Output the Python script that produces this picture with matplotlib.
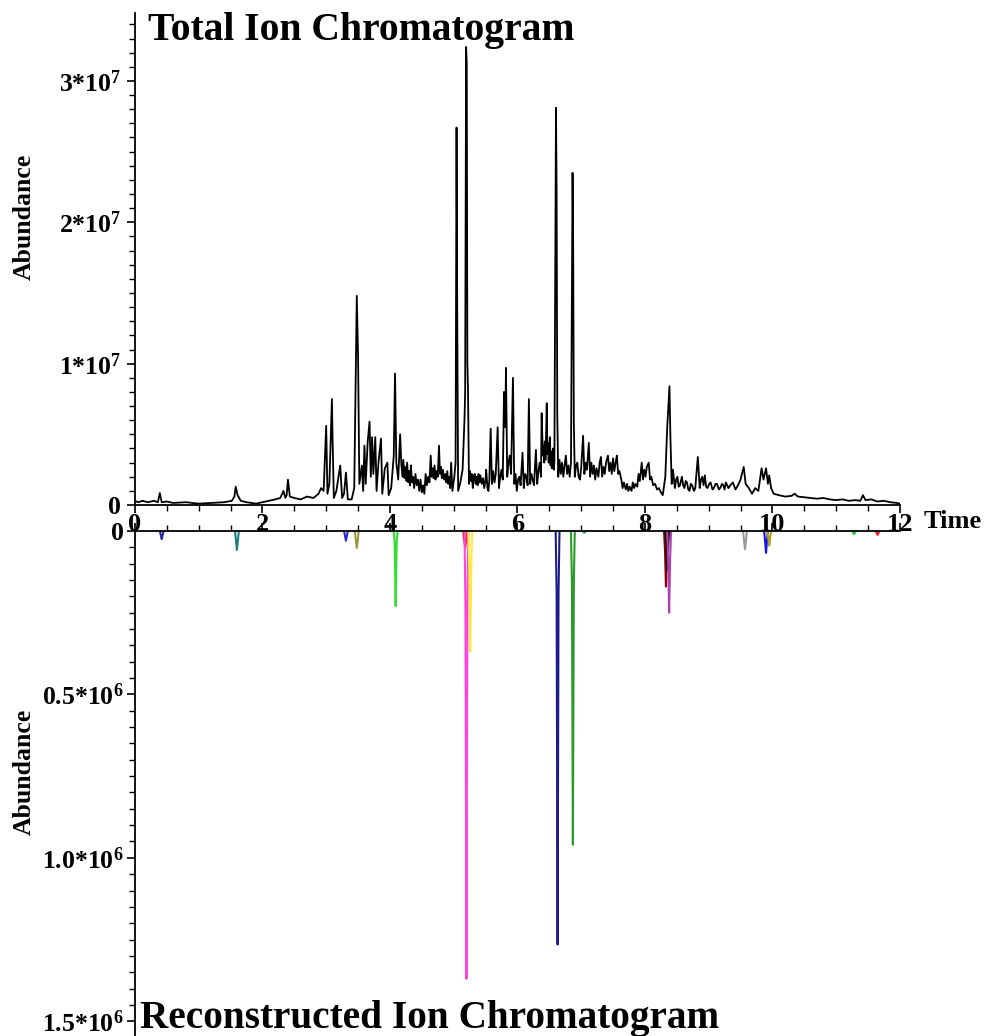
import matplotlib
matplotlib.use("Agg")
import matplotlib.pyplot as plt
from matplotlib.ticker import FixedLocator, MultipleLocator
import numpy as np

plt.rcParams['font.family'] = ['Liberation Serif', 'DejaVu Serif']
plt.rcParams['font.weight'] = 'bold'
plt.rcParams['mathtext.fontset'] = 'custom'
plt.rcParams['mathtext.rm'] = 'Liberation Serif:bold'
plt.rcParams['mathtext.bf'] = 'Liberation Serif:bold'
plt.rcParams['mathtext.it'] = 'Liberation Serif:bold'

# total ion chromatogram: (time in min, abundance in units of 1e7)
tic_points = [
    (0.00, 0.03), (0.05, 0.02), (0.12, 0.03), (0.20, 0.02), (0.30, 0.03), (0.36, 0.02),
    (0.39, 0.085), (0.42, 0.02), (0.50, 0.025), (0.60, 0.015), (0.80, 0.02), (1.00, 0.01),
    (1.20, 0.015), (1.40, 0.02), (1.52, 0.03), (1.56, 0.06), (1.58, 0.13), (1.61, 0.07),
    (1.66, 0.03), (1.75, 0.02), (1.90, 0.01), (2.00, 0.02), (2.10, 0.03), (2.20, 0.04),
    (2.28, 0.05), (2.33, 0.10), (2.36, 0.05), (2.38, 0.07), (2.40, 0.18), (2.43, 0.06),
    (2.50, 0.05), (2.60, 0.04), (2.70, 0.06), (2.80, 0.05), (2.88, 0.08), (2.92, 0.12),
    (2.96, 0.10), (3.00, 0.56), (3.02, 0.08), (3.05, 0.15), (3.09, 0.75), (3.10, 0.47),
    (3.12, 0.05), (3.16, 0.10), (3.22, 0.28), (3.25, 0.05), (3.28, 0.08), (3.31, 0.23),
    (3.34, 0.04), (3.40, 0.04), (3.44, 0.12), (3.48, 1.48), (3.50, 1.05), (3.52, 0.15),
    (3.56, 0.28), (3.58, 0.10), (3.60, 0.42), (3.62, 0.15), (3.65, 0.44), (3.68, 0.59),
    (3.70, 0.20), (3.72, 0.48), (3.74, 0.22), (3.77, 0.48), (3.79, 0.10), (3.82, 0.30),
    (3.86, 0.47), (3.88, 0.08), (3.92, 0.26), (3.96, 0.30), (3.98, 0.07), (4.02, 0.12),
    (4.06, 0.35), (4.08, 0.93), (4.10, 0.30), (4.13, 0.18), (4.16, 0.50), (4.18, 0.28),
    (4.20, 0.20), (4.21, 0.32), (4.23, 0.19), (4.245, 0.27), (4.26, 0.17), (4.27, 0.30),
    (4.29, 0.16), (4.30, 0.24), (4.315, 0.14), (4.33, 0.28), (4.345, 0.16), (4.36, 0.20),
    (4.38, 0.12), (4.40, 0.22), (4.42, 0.14), (4.44, 0.18), (4.46, 0.10), (4.48, 0.18),
    (4.50, 0.09), (4.52, 0.14), (4.54, 0.08), (4.56, 0.22), (4.58, 0.14), (4.60, 0.20),
    (4.62, 0.16), (4.64, 0.35), (4.655, 0.20), (4.67, 0.26), (4.685, 0.19), (4.70, 0.28),
    (4.715, 0.18), (4.73, 0.24), (4.75, 0.20), (4.77, 0.42), (4.785, 0.22), (4.80, 0.27),
    (4.815, 0.19), (4.83, 0.25), (4.85, 0.18), (4.87, 0.22), (4.885, 0.16), (4.90, 0.24),
    (4.915, 0.15), (4.93, 0.20), (4.945, 0.12), (4.96, 0.30), (4.98, 0.10), (5.01, 0.20),
    (5.03, 0.30), (5.045, 2.67), (5.055, 1.46), (5.07, 0.10), (5.10, 0.15), (5.14, 0.25),
    (5.17, 0.61), (5.18, 0.80), (5.195, 3.24), (5.205, 3.13), (5.215, 1.00), (5.225, 0.81),
    (5.24, 0.15), (5.255, 0.24), (5.27, 0.17), (5.285, 0.22), (5.30, 0.12), (5.315, 0.20),
    (5.33, 0.22), (5.345, 0.15), (5.36, 0.20), (5.375, 0.14), (5.39, 0.22), (5.405, 0.16),
    (5.42, 0.21), (5.44, 0.15), (5.46, 0.19), (5.48, 0.12), (5.50, 0.18), (5.51, 0.25),
    (5.53, 0.12), (5.545, 0.10), (5.56, 0.18), (5.58, 0.54), (5.60, 0.15), (5.62, 0.24),
    (5.64, 0.16), (5.66, 0.22), (5.69, 0.55), (5.71, 0.12), (5.73, 0.20), (5.75, 0.25),
    (5.77, 0.18), (5.79, 0.80), (5.81, 0.55), (5.82, 0.97), (5.84, 0.20), (5.86, 0.30),
    (5.88, 0.35), (5.90, 0.22), (5.93, 0.90), (5.95, 0.15), (5.97, 0.22), (5.99, 0.10),
    (6.01, 0.18), (6.03, 0.20), (6.05, 0.14), (6.08, 0.37), (6.10, 0.12), (6.12, 0.22),
    (6.14, 0.20), (6.16, 0.14), (6.18, 0.75), (6.20, 0.15), (6.22, 0.22), (6.24, 0.18),
    (6.26, 0.14), (6.29, 0.39), (6.31, 0.15), (6.33, 0.24), (6.35, 0.30), (6.37, 0.20),
    (6.38, 0.65), (6.40, 0.35), (6.41, 0.42), (6.42, 0.30), (6.43, 0.45), (6.44, 0.32),
    (6.45, 0.50), (6.46, 0.72), (6.47, 0.36), (6.48, 0.44), (6.49, 0.30), (6.50, 0.42),
    (6.51, 0.48), (6.52, 0.28), (6.53, 0.38), (6.54, 0.26), (6.55, 0.35), (6.56, 0.40),
    (6.57, 0.25), (6.58, 0.30), (6.605, 2.81), (6.615, 2.20), (6.625, 0.65), (6.64, 0.20),
    (6.66, 0.32), (6.68, 0.22), (6.70, 0.30), (6.72, 0.20), (6.74, 0.28), (6.76, 0.35),
    (6.78, 0.22), (6.80, 0.28), (6.82, 0.20), (6.84, 0.30), (6.865, 2.35), (6.875, 1.82),
    (6.885, 0.58), (6.90, 0.20), (6.92, 0.28), (6.94, 0.30), (6.96, 0.20), (6.98, 0.18),
    (7.00, 0.26), (7.03, 0.49), (7.05, 0.22), (7.07, 0.30), (7.09, 0.25), (7.12, 0.44),
    (7.14, 0.20), (7.16, 0.30), (7.18, 0.22), (7.20, 0.28), (7.22, 0.18), (7.24, 0.26),
    (7.27, 0.20), (7.29, 0.30), (7.31, 0.34), (7.33, 0.20), (7.35, 0.27), (7.37, 0.22),
    (7.39, 0.30), (7.42, 0.35), (7.44, 0.24), (7.46, 0.30), (7.48, 0.22), (7.50, 0.33),
    (7.52, 0.24), (7.54, 0.30), (7.56, 0.35), (7.58, 0.22), (7.60, 0.24), (7.63, 0.18),
    (7.65, 0.12), (7.67, 0.16), (7.70, 0.11), (7.72, 0.15), (7.74, 0.10), (7.76, 0.13),
    (7.79, 0.10), (7.81, 0.16), (7.83, 0.12), (7.85, 0.15), (7.88, 0.13), (7.90, 0.22),
    (7.92, 0.17), (7.95, 0.30), (7.97, 0.18), (7.99, 0.25), (8.01, 0.20), (8.03, 0.27),
    (8.06, 0.30), (8.08, 0.18), (8.10, 0.20), (8.13, 0.14), (8.16, 0.15), (8.19, 0.11),
    (8.22, 0.12), (8.25, 0.09), (8.28, 0.07), (8.32, 0.20), (8.35, 0.55), (8.37, 0.72),
    (8.385, 0.84), (8.40, 0.48), (8.42, 0.15), (8.44, 0.25), (8.47, 0.12), (8.49, 0.18),
    (8.51, 0.20), (8.53, 0.13), (8.55, 0.14), (8.58, 0.20), (8.60, 0.14), (8.62, 0.12),
    (8.64, 0.17), (8.66, 0.16), (8.68, 0.11), (8.70, 0.10), (8.72, 0.15), (8.74, 0.14),
    (8.77, 0.10), (8.79, 0.12), (8.83, 0.34), (8.86, 0.12), (8.88, 0.18), (8.90, 0.20),
    (8.92, 0.14), (8.94, 0.21), (8.96, 0.13), (8.98, 0.12), (9.01, 0.15), (9.03, 0.16),
    (9.06, 0.11), (9.08, 0.12), (9.11, 0.15), (9.13, 0.15), (9.16, 0.11), (9.18, 0.12),
    (9.21, 0.15), (9.23, 0.14), (9.25, 0.11), (9.27, 0.16), (9.31, 0.12), (9.34, 0.14),
    (9.38, 0.16), (9.42, 0.11), (9.46, 0.14), (9.50, 0.18), (9.55, 0.27), (9.58, 0.15),
    (9.63, 0.12), (9.68, 0.08), (9.73, 0.12), (9.78, 0.10), (9.83, 0.26), (9.86, 0.18),
    (9.90, 0.26), (9.93, 0.15), (9.95, 0.21), (9.98, 0.12), (10.02, 0.08), (10.10, 0.07),
    (10.20, 0.06), (10.30, 0.065), (10.35, 0.08), (10.40, 0.06), (10.50, 0.055),
    (10.60, 0.05), (10.70, 0.045), (10.80, 0.05), (10.90, 0.04), (11.00, 0.035),
    (11.10, 0.04), (11.20, 0.03), (11.30, 0.035), (11.38, 0.03), (11.42, 0.07),
    (11.46, 0.035), (11.55, 0.04), (11.65, 0.025), (11.75, 0.03), (11.85, 0.02),
    (11.95, 0.015), (12.00, 0.01),
]
tic_time = [p[0] for p in tic_points]
tic_abund = [p[1] for p in tic_points]

# reconstructed ion chromatograms: retention time, apex (1e6), narrowing point (1e6), colour
ric_time = [0.42, 1.60, 3.31, 3.48, 4.09, 5.18, 5.20, 5.26, 6.63, 6.87, 7.05,
            8.33, 8.35, 8.38, 9.57, 9.90, 9.95, 11.28, 11.65]
ric_apex = [0.025, 0.058, 0.03, 0.052, 0.23, 0.05, 1.37, 0.37, 1.265, 0.96, 0.006,
            0.17, 0.12, 0.25, 0.056, 0.067, 0.045, 0.010, 0.012]
ric_neck = [0.012, 0.03, 0.015, 0.03, 0.04, 0.03, 0.24, 0.12, 0.19, 0.16, 0.003,
            0.06, 0.05, 0.09, 0.03, 0.03, 0.02, 0.005, 0.006]
ric_color = ['#2a2aa0', '#1a8080', '#2a2ad0', '#9a9a40', '#33dd33', '#ee2020', '#ff44dd',
             '#ffe840', '#1c1c8c', '#2a9a2a', '#40a0a0', '#8b0000', '#111111', '#b040b0',
             '#9a9a9a', '#1515e0', '#b0a020', '#22cc22', '#ee2020']

top_ticks = [0, 1e7, 2e7, 3e7]
top_labels = ['0', r'$1{*}10^7$', r'$2{*}10^7$', r'$3{*}10^7$']
bottom_ticks = [0, 0.5e6, 1.0e6, 1.5e6]
bottom_labels = ['0', r'$0.5{*}10^6$', r'$1.0{*}10^6$', r'$1.5{*}10^6$']
time_ticks = [0, 2, 4, 6, 8, 10, 12]

fig = plt.figure(figsize=(9.85, 10.36), dpi=100)
ax1 = fig.add_axes([0.137, 0.5125, 0.7766, 0.4749])
ax2 = fig.add_axes([0.137, 0.0, 0.7766, 0.4875])

ax1.plot(tic_time, np.array(tic_abund) * 1e7, color='black', lw=1.3)
ax1.set_xlim(0, 12)
ax1.set_ylim(0, 3.48e7)

for t, h, n, c in zip(ric_time, ric_apex, ric_neck, ric_color):
    xs = [t - 0.03, t - 0.015, t, t + 0.015, t + 0.03]
    ys = np.array([0, n, h, n, 0]) * 1e6
    ax2.plot(xs, ys, color=c, lw=1.5)
ax2.set_xlim(0, 12)
ax2.set_ylim(1.545e6, 0)

tick_font = dict(fontsize=19, fontweight='bold', family='Liberation Serif')
ytick_font = dict(fontsize=18.5, fontweight='bold', family='Liberation Serif')

for ax in (ax1, ax2):
    ax.spines['right'].set_visible(False)
    ax.spines['left'].set_linewidth(1.3)
    ax.xaxis.set_major_locator(MultipleLocator(2))
    ax.xaxis.set_minor_locator(MultipleLocator(0.5))
    ax.tick_params(which='major', direction='out', length=6, width=1.2)
    ax.tick_params(which='minor', direction='out', length=4, width=1.0)
    ax.patch.set_alpha(0)

ax1.spines['top'].set_visible(False)
ax1.spines['bottom'].set_linewidth(1.3)
ax1.set_xticks(time_ticks)
ax1.set_xticklabels([str(v) for v in time_ticks], **tick_font)
ax1.tick_params(axis='x', pad=0)
ax1.yaxis.set_major_locator(FixedLocator(top_ticks))
ax1.set_yticklabels(top_labels, **ytick_font)
ax1.yaxis.set_minor_locator(MultipleLocator(0.1e7))
ax1.tick_params(axis='y', pad=4)

ax2.spines['bottom'].set_visible(False)
ax2.spines['top'].set_linewidth(1.3)
ax2.xaxis.tick_top()
ax2.tick_params(axis='x', which='both', labeltop=False)
ax2.yaxis.set_major_locator(FixedLocator(bottom_ticks))
ax2.set_yticklabels(bottom_labels, **ytick_font)
ax2.yaxis.set_minor_locator(MultipleLocator(0.05e6))
ax2.tick_params(axis='y', pad=2)

fig.text(0.150, 1 - 40 / 1036, 'Total Ion Chromatogram', fontsize=28.5,
         fontweight='bold', va='baseline', ha='left')
fig.text(0.142, 1 - 1028 / 1036, 'Reconstructed Ion Chromatogram', fontsize=28.3,
         fontweight='bold', va='baseline', ha='left')
fig.text(0.938, 1 - 522 / 1036, 'Time', fontsize=19, fontweight='bold',
         va='center', ha='left')
fig.text(0.025, 1 - 217 / 1036, 'Abundance', fontsize=18.5, fontweight='bold',
         rotation=90, va='center', ha='center')
fig.text(0.025, 1 - 772 / 1036, 'Abundance', fontsize=18.5, fontweight='bold',
         rotation=90, va='center', ha='center')

fig.savefig('out.png', dpi=100)
